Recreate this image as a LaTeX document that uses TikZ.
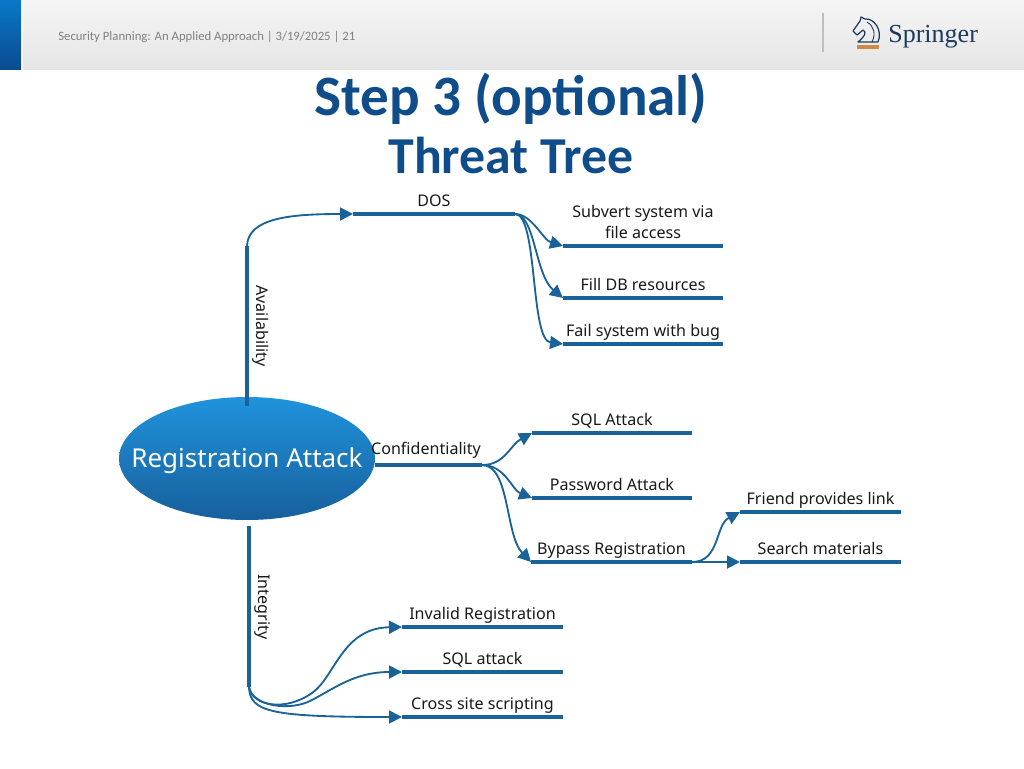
\documentclass[tikz,border=0pt]{standalone}
\usepackage{fontspec}
\setmainfont{Carlito}
\newfontfamily\labelfont{Noto Sans}
\newfontfamily\logofont{Liberation Serif}
\usetikzlibrary{arrows.meta,shapes.geometric}
\definecolor{barblue}{HTML}{1A6398}
\definecolor{ovaltop}{HTML}{2093DC}
\definecolor{ovalbottom}{HTML}{175F9C}
\definecolor{sidetop}{HTML}{0A78C8}
\definecolor{sidebottom}{HTML}{0A4C90}
\definecolor{titleblue}{HTML}{0F4C8A}
\definecolor{logonavy}{HTML}{1B3A5E}
\definecolor{logoorange}{HTML}{CF8A45}
\tikzset{
	bar/.style={draw=barblue,line width=2.8pt},
	link/.style={draw=barblue,line width=1.05pt,-{Triangle[length=7.4pt,width=7.4pt]}},
	tag/.style={font=\labelfont\fontsize{9.15}{12}\selectfont,text=black!90,align=center,inner sep=0pt},
}
\newcommand{\Branch}[5]{
	\coordinate (#1L) at (#2,#4);
	\coordinate (#1R) at (#3,#4);
	\draw[bar] (#1L) -- (#1R);
	\node[tag,anchor=base] (#1Text) at (\fpeval{0.5*(#2+#3)},#4-8) {#5};
}
\begin{document}
\begin{tikzpicture}[x=.02cm,y=-.02cm]
	\useasboundingbox (0,0) rectangle (1024,768);
	% header
	\shade[top color=black!4,bottom color=black!10] (23,0) rectangle (1024,69);
	\shade[top color=sidetop,bottom color=sidebottom] (0,0) rectangle (21,69);
	\node[anchor=west,inner sep=0pt,text=black!50,font=\fontsize{7.25}{9}\selectfont] (footer) at (58,37) {Security Planning: An Applied Approach | 3/19/2025 | 21};
	\draw[black!25,line width=.7pt] (823,13) -- (823,52);
	% logo
	\draw[logonavy,line width=.7pt,line join=round] (872,42) -- (858,42) .. controls (865,36) and (867,32) .. (863,30) -- (857,35) -- (853,31) -- (860,21) -- (861,17) -- (865,19) .. controls (874,18) and (883,30) .. (878,42) -- cycle;
	\draw[logonavy,line width=.5pt] (867,22) .. controls (874,26) and (876,34) .. (872,42);
	\draw[logoorange,line width=2.3pt] (857,47) -- (879,47);
	\node[anchor=west,inner sep=0pt,text=logonavy,font=\logofont\fontsize{14.8}{18}\selectfont] (logo) at (888,37) {Springer};
	% title
	\node[text=titleblue,font=\bfseries\fontsize{32.5}{36}\selectfont,inner sep=0pt] (title) at (511,99) {Step 3 (optional)};
	\node[text=titleblue,font=\bfseries\fontsize{29.5}{32}\selectfont,inner sep=0pt] (subtitle) at (511,156) {Threat Tree};
	% root
	\node[ellipse,minimum width=5.12cm,minimum height=2.46cm,inner sep=0pt,top color=ovaltop,bottom color=ovalbottom] (root) at (247,458.5) {};
	\node[inner sep=0pt,text=white,font=\labelfont\fontsize{14.8}{16}\selectfont] (rootText) at (247,461) {Registration Attack};
	% branches
	\Branch{dos}{353}{515}{214}{DOS}
	\Branch{subvert}{563}{723}{246}{}
	\node[tag] (subvertText) at (643,222) {Subvert system via\\file access};
	\Branch{fill}{563}{723}{298}{Fill DB resources}
	\Branch{fail}{563}{723}{344}{Fail system with bug}
	\Branch{conf}{375}{482}{465}{}
	\node[tag,anchor=base] (confText) at (426,454) {Confidentiality};
	\Branch{sql}{532}{692}{433}{SQL Attack}
	\Branch{pass}{532}{692}{498}{Password Attack}
	\Branch{bypass}{531}{692}{562}{Bypass Registration}
	\Branch{friend}{740}{901}{512}{Friend provides link}
	\Branch{search}{740}{901}{562}{Search materials}
	\Branch{invalid}{402}{563}{627}{Invalid Registration}
	\Branch{sqlb}{402}{563}{672}{SQL attack}
	\Branch{cross}{402}{563}{717}{Cross site scripting}
	\coordinate (availB) at (247,406);
	\coordinate (availT) at (247,246);
	\coordinate (integT) at (249,526);
	\coordinate (integB) at (249,687);
	\draw[bar] (availB) -- (availT);
	\draw[bar] (integT) -- (integB);
	\node[tag,rotate=-90] (availText) at (261,326) {Availability};
	\node[tag,rotate=-90] (integText) at (262,607) {Integrity};
	% links
	\draw[link] (availT) .. controls (248,218) and (290,214) .. (dosL);
	\draw[link] (dosR) .. controls (532,214) and (543,240) .. (subvertL);
	\draw[link] (dosR) .. controls (535,214) and (535,275) .. (fillL);
	\draw[link] (dosR) .. controls (538,214) and (530,340) .. (failL);
	\draw[link] (confR) .. controls (505,465) and (510,445) .. (sqlL);
	\draw[link] (confR) .. controls (505,465) and (512,490) .. (passL);
	\draw[link] (confR) .. controls (510,465) and (505,535) .. (bypassL);
	\draw[link] (bypassR) .. controls (720,562) and (715,525) .. (friendL);
	\draw[link] (bypassR) -- (searchL);
	\draw[link] (integB) .. controls (252,706) and (285,712) .. (312,693) .. controls (335,677) and (342,628) .. (invalidL);
	\draw[link] (integB) .. controls (252,706) and (290,712) .. (312,700) .. controls (335,688) and (355,672) .. (sqlbL);
	\draw[link] (integB) .. controls (250,712) and (270,717) .. (crossL);
\end{tikzpicture}
\end{document}
